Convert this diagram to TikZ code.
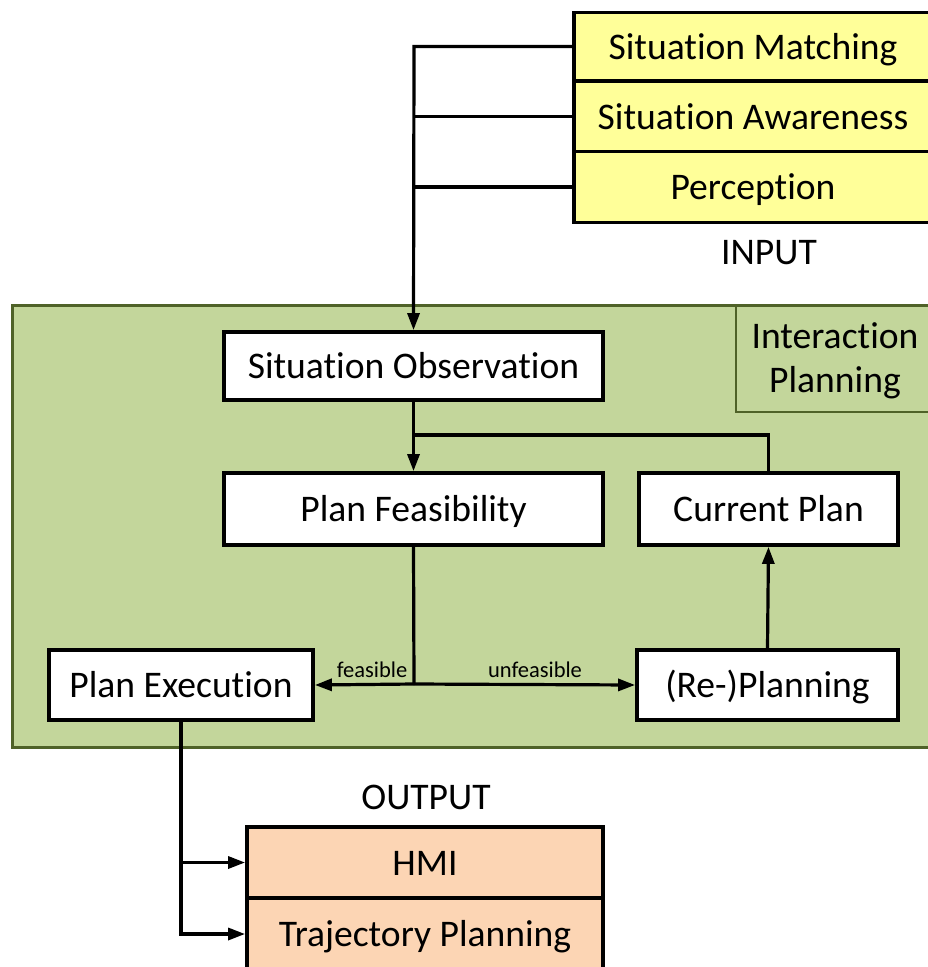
\documentclass[tikz,border=0pt]{standalone}
\usepackage{fontspec}
\setmainfont{Carlito}[Ligatures=NoCommon]
\usetikzlibrary{arrows.meta}

\definecolor{inYellow}{HTML}{FFFF99}
\definecolor{outPeach}{HTML}{FCD5B4}
\definecolor{ipGreen}{HTML}{C3D69B}
\definecolor{ipBorder}{HTML}{4F6228}

\tikzset{
  boxstyle/.style={draw=black, line width=3.8pt, fill=white, inner sep=0pt,
    font=\fontsize{37.6}{44}\selectfont, text height=32pt, text depth=7pt},
  inbox/.style={boxstyle, fill=inYellow},
  outbox/.style={boxstyle, fill=outPeach},
  conn/.style={line width=3.2pt, draw=black},
  arr/.style={conn, -{Triangle[length=17pt,width=12pt]}},
  smalllabel/.style={font=\fontsize{22.5}{26}\selectfont, inner sep=0pt},
  biglabel/.style={font=\fontsize{37.6}{44}\selectfont, inner sep=0pt}
}

\begin{document}
\begin{tikzpicture}[x=1pt, y=-1pt]
\useasboundingbox (0,0) rectangle (927,967);

% Interaction planning area
\draw[fill=ipGreen, draw=ipBorder, line width=3pt] (12,305) rectangle (940,747);
\draw[draw=ipBorder, line width=1.5pt] (736,305) rectangle (940,412);
\node[biglabel, anchor=base] (iplabelA) at (835,348) {Interaction};
\node[biglabel, anchor=base] (iplabelB) at (835,392) {Planning};

% Inputs
\node[inbox, minimum width=358pt, minimum height=68pt] (sm) at (753,46.5) {Situation Matching};
\node[inbox, minimum width=358pt, minimum height=71pt] (sa) at (753,116.5) {Situation Awareness};
\node[inbox, minimum width=358pt, minimum height=71pt] (pc) at (753,187) {Perception};
\node[biglabel, anchor=base] (inlabel) at (769,264) {INPUT};

% Planning loop
\node[boxstyle, minimum width=379pt, minimum height=68pt] (so) at (413.5,366) {Situation Observation};
\node[boxstyle, minimum width=379pt, minimum height=72pt] (pf) at (413.5,509) {Plan Feasibility};
\node[boxstyle, minimum width=259pt, minimum height=72pt] (cp) at (768.5,509) {Current Plan};
\node[boxstyle, minimum width=264pt, minimum height=70pt] (px) at (181,685) {Plan Execution};
\node[boxstyle, minimum width=261pt, minimum height=70pt] (rp) at (767.5,685) {(Re-)Planning};

% Outputs
\node[biglabel, anchor=base] (outlabel) at (426,809) {OUTPUT};
\node[outbox, minimum width=356pt, minimum height=71pt] (hmi) at (425,862.5) {HMI};
\node[outbox, minimum width=356pt, minimum height=72pt] (tp) at (425,934) {Trajectory Planning};

% Junction points
\coordinate (jin) at (414,46.5);
\coordinate (jmid) at (414,435);
\coordinate (jfb) at (414,684);

% Input connectors
\draw[arr] (sm.west) -- (jin) -- (so.north);
\draw[conn] (sa.west) -- (sa.west -| jin);
\draw[conn] (pc.west) -- (pc.west -| jin);

% Loop connectors
\draw[arr] (so.south) -- (pf.north);
\draw[conn] (cp.north) |- (jmid);
\draw[conn] (pf.south) -- (jfb);
\draw[arr] (jfb) -- (px.east);
\draw[arr] (jfb) -- (rp.west);
\draw[arr] (rp.north) -- (cp.south);
\node[smalllabel, anchor=base] (lfeas) at (372,677) {feasible};
\node[smalllabel, anchor=base] (lunfeas) at (535,677) {unfeasible};

% Output connectors
\draw[arr] (px.south) |- (hmi.west);
\draw[arr] (px.south) |- (tp.west);
\end{tikzpicture}
\end{document}
